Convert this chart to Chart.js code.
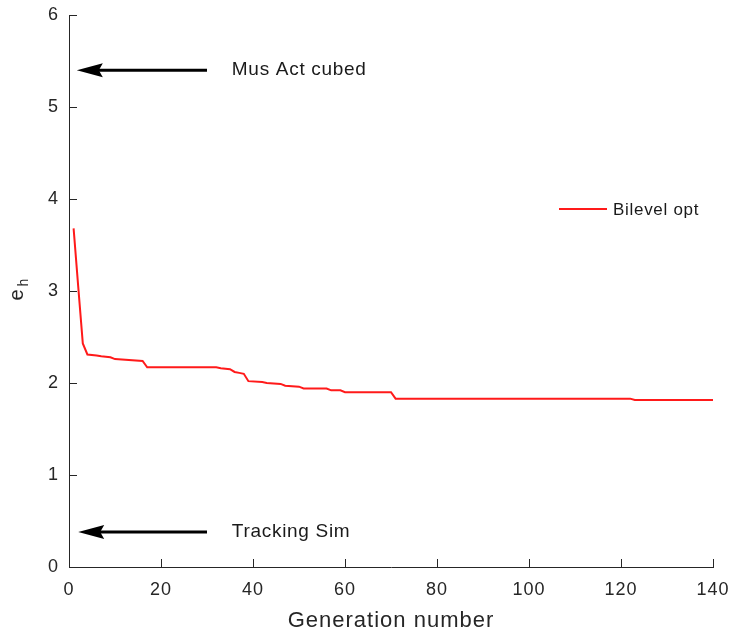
<!DOCTYPE html>
<html>
<head>
<meta charset="utf-8">
<script src="https://cdn.jsdelivr.net/npm/chart.js@4.4.0/dist/chart.umd.min.js"></script>
<style>
  html, body { margin: 0; padding: 0; background: #fff; }
  #wrap { width: 730px; height: 632px; }
</style>
</head>
<body>
<div id="wrap"><canvas id="ehChart" width="730" height="632"></canvas></div>
<script>
// --- DATA ---
const generations = [1, 2, 3, 4, 6, 7, 9, 10, 16, 17, 32, 33, 35, 36, 37, 38, 39, 42, 43, 46, 47, 50, 51, 56, 57, 59, 60, 70, 71, 122, 123, 140];
const ehValues = [3.68, 3.05, 2.43, 2.31, 2.30, 2.29, 2.28, 2.26, 2.24, 2.17, 2.17, 2.16, 2.15, 2.12, 2.11, 2.10, 2.02, 2.01, 2.00, 1.99, 1.97, 1.96, 1.94, 1.94, 1.92, 1.92, 1.90, 1.90, 1.83, 1.83, 1.815, 1.815];
const xTicks = [0, 20, 40, 60, 80, 100, 120, 140];
const yTicks = [0, 1, 2, 3, 4, 5, 6];

// reference levels marked with arrows
const refLabels = ['Mus Act cubed', 'Tracking Sim'];
const refLevels = [5.40, 0.38];
const arrowTail = [30, 30];
const arrowTip = [1.7, 2];
const refTextX = 35.4;

const FONT = '"Liberation Sans", Arial, Helvetica, sans-serif';
const AXIS_COLOR = '#262626';

// --- EXTRA DRAWING: inward ticks, y title, arrows, legend ---
const decorPlugin = {
  id: 'decor',
  beforeDraw(chart) {
    // the reference text is a little wider than Arial, spread it out
    chart.ctx.letterSpacing = '1px';
  },
  beforeDatasetsDraw(chart) {
    chart.ctx.letterSpacing = '0px';
  },
  afterDraw(chart) {
    const ctx = chart.ctx;
    const xs = chart.scales.x, ys = chart.scales.y;
    const area = chart.chartArea;
    ctx.save();

    // inward tick marks
    ctx.strokeStyle = AXIS_COLOR;
    ctx.lineWidth = 1;
    ctx.beginPath();
    xTicks.forEach(v => {
      const px = Math.round(xs.getPixelForValue(v)) + 0.5;
      ctx.moveTo(px, area.bottom);
      ctx.lineTo(px, area.bottom - 8);
    });
    yTicks.forEach(v => {
      const py = Math.round(ys.getPixelForValue(v)) + 0.5;
      ctx.moveTo(area.left, py);
      ctx.lineTo(area.left + 8, py);
    });
    ctx.stroke();

    // y axis title e_h
    ctx.save();
    ctx.translate(23, 295);
    ctx.rotate(-Math.PI / 2);
    ctx.fillStyle = AXIS_COLOR;
    ctx.textBaseline = 'alphabetic';
    ctx.textAlign = 'left';
    ctx.font = '20px ' + FONT;
    const eW = ctx.measureText('e').width;
    ctx.fillText('e', -eW / 2, 0);
    ctx.font = '14px ' + FONT;
    ctx.fillText('h', eW / 2 + 3, 5);
    ctx.restore();

    // arrows and labels
    refLabels.forEach((label, i) => {
      const y = ys.getPixelForValue(refLevels[i]);
      const x0 = xs.getPixelForValue(arrowTail[i]);
      const x1 = xs.getPixelForValue(arrowTip[i]);
      ctx.strokeStyle = '#000';
      ctx.fillStyle = '#000';
      ctx.lineWidth = 3;
      ctx.beginPath();
      ctx.moveTo(x0, y);
      ctx.lineTo(x1 + 20, y);
      ctx.stroke();
      ctx.beginPath();
      ctx.moveTo(x1, y);
      ctx.lineTo(x1 + 26, y - 7);
      ctx.lineTo(x1 + 22, y);
      ctx.lineTo(x1 + 26, y + 7);
      ctx.closePath();
      ctx.fill();

      ctx.font = '19px ' + FONT;
      ctx.letterSpacing = '0.7px';
      ctx.textAlign = 'left';
      ctx.textBaseline = 'middle';
      ctx.fillStyle = '#1a1a1a';
      ctx.fillText(label, xs.getPixelForValue(refTextX), y);
      ctx.letterSpacing = '0px';
    });

    // legend (no box)
    const ds = chart.data.datasets[0];
    ctx.strokeStyle = ds.borderColor;
    ctx.lineWidth = 2;
    ctx.beginPath();
    ctx.moveTo(559, 209);
    ctx.lineTo(607, 209);
    ctx.stroke();
    ctx.font = '17px ' + FONT;
    ctx.letterSpacing = '0.7px';
    ctx.fillStyle = '#1a1a1a';
    ctx.textAlign = 'left';
    ctx.textBaseline = 'middle';
    ctx.fillText(ds.label, 613, 210);
    ctx.letterSpacing = '0px';

    ctx.restore();
  }
};

// --- CHART ---
const ctx = document.getElementById('ehChart');
const ehChart = new Chart(ctx, {
  type: 'line',
  data: {
    datasets: [{
      label: 'Bilevel opt',
      data: generations.map((g, i) => ({ x: g, y: ehValues[i] })),
      borderColor: '#ff1a1a',
      borderWidth: 2,
      tension: 0,
      pointRadius: 0,
      fill: false
    }]
  },
  options: {
    responsive: false,
    animation: false,
    layout: { padding: { left: 0, right: 17, top: 15, bottom: 0 } },
    plugins: {
      legend: { display: false },
      tooltip: { enabled: false }
    },
    scales: {
      x: {
        type: 'linear',
        min: 0,
        max: 140,
        afterFit: s => { s.height = 65; s.paddingLeft = 0; s.paddingRight = 0; },
        afterBuildTicks: s => { s.ticks = xTicks.map(v => ({ value: v })); },
        ticks: { color: AXIS_COLOR, font: { family: FONT, size: 18 }, padding: 12, maxRotation: 0 },
        grid: { display: true, drawOnChartArea: false, drawTicks: false },
        border: { display: true, color: AXIS_COLOR, width: 1 },
        title: {
          display: true,
          text: 'Generation number',
          color: AXIS_COLOR,
          font: { family: FONT, size: 22 },
          padding: { top: 0, bottom: -2 }
        }
      },
      y: {
        min: 0,
        max: 6,
        afterFit: s => { s.width = 69; s.paddingTop = 0; s.paddingBottom = 0; },
        afterBuildTicks: s => { s.ticks = yTicks.map(v => ({ value: v })); },
        ticks: { color: AXIS_COLOR, font: { family: FONT, size: 18 }, padding: 10 },
        grid: { display: true, drawOnChartArea: false, drawTicks: false },
        border: { display: true, color: AXIS_COLOR, width: 1 }
      }
    }
  },
  plugins: [decorPlugin]
});
</script>
</body>
</html>
